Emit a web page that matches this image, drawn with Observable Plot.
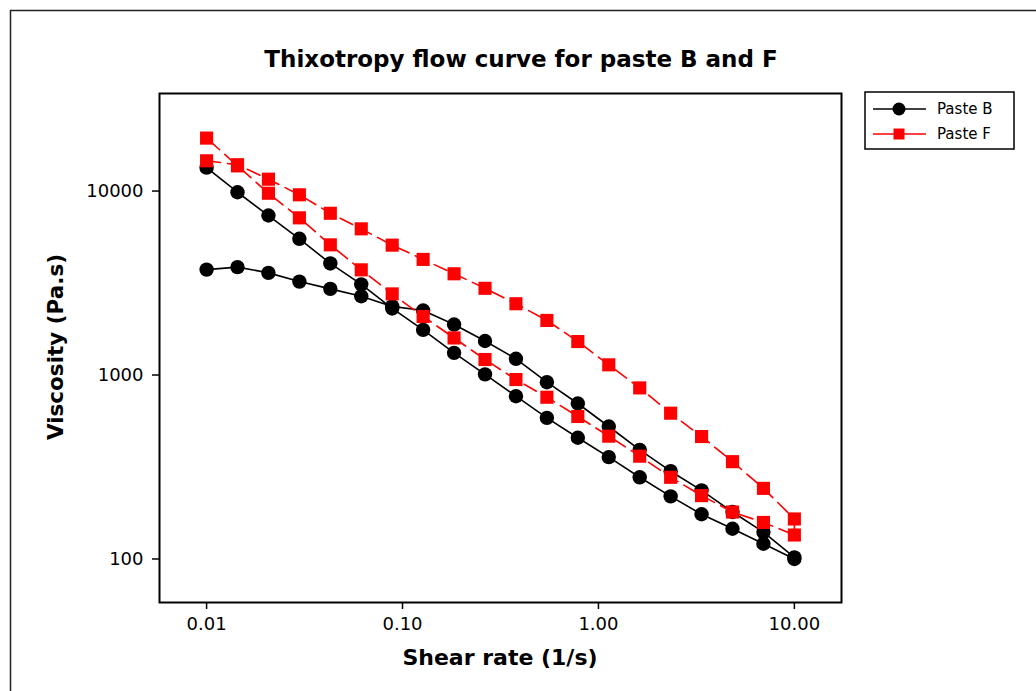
<!DOCTYPE html>
<html><head><meta charset="utf-8">
<script src="https://cdn.jsdelivr.net/npm/d3@7"></script>
<script src="https://cdn.jsdelivr.net/npm/@observablehq/plot@0.6"></script>
<style>
html,body{margin:0;padding:0;background:#fff;}
#chart{position:relative;width:1036px;height:691px;overflow:hidden;}
</style></head><body><div id="chart"></div>
<script>
// Shear rate steps (1/s)
const shearRate = [0.01, 0.01438, 0.02069, 0.02976, 0.04281, 0.06158, 0.08859, 0.1274, 0.1833, 0.2637,
                   0.3793, 0.5456, 0.7848, 1.129, 1.624, 2.336, 3.360, 4.833, 6.952, 10.0];
// Viscosity (Pa.s): ramp up branch and ramp down branch for each paste
const pasteB_up   = [3740, 3860, 3590, 3220, 2940, 2680, 2360, 2240, 1880, 1530, 1225, 914, 700, 525, 392, 300, 236, 180, 140, 102];
const pasteB_down = [13400, 9850, 7360, 5500, 4040, 3110, 2300, 1760, 1320, 1008, 767, 585, 456, 358, 278, 219, 175, 146, 121, 100];
const pasteF_up   = [14600, 13900, 11600, 9540, 7570, 6230, 5080, 4250, 3550, 2960, 2440, 1980, 1520, 1136, 851, 620, 463, 338, 242, 165];
const pasteF_down = [19400, 13700, 9730, 7150, 5100, 3730, 2760, 2080, 1590, 1214, 945, 757, 595, 465, 362, 278, 221, 180, 158, 135];
const seriesNames = ["Paste B", "Paste F"];
const xTicks = [0.01, 0.1, 1, 10];
const yTicks = [100, 1000, 10000];
const titleText = "Thixotropy flow curve for paste B and F";
const xLabel = "Shear rate (1/s)";
const yLabel = "Viscosity (Pa.s)";

function loop(name, up, down) {
  const rows = [];
  up.forEach((v, i) => rows.push({series: name, rate: shearRate[i], visc: v}));
  for (let i = down.length - 1; i >= 0; i--) rows.push({series: name, rate: shearRate[i], visc: down[i]});
  return rows;
}
const dataB = loop(seriesNames[0], pasteB_up, pasteB_down);
const dataF = loop(seriesNames[1], pasteF_up, pasteF_down);

const W = 1036, H = 691;
const FONT = "'DejaVu Sans', Verdana, sans-serif";
const RED = "#ff0000";

const plot = Plot.plot({
  width: W, height: H,
  marginLeft: 159, marginRight: 195, marginTop: 93, marginBottom: 89,
  style: {fontFamily: FONT, fontSize: "18px", background: "white", color: "black", overflow: "visible"},
  x: {type: "log", domain: [0.00575, 17.4]},
  y: {type: "log", domain: [58, 33900]},
  marks: [
    Plot.axisX({ticks: xTicks, tickFormat: d3.format(".2f"), tickSize: 7, tickPadding: 8, label: null, strokeWidth: 1.5}),
    Plot.axisY({ticks: yTicks, tickFormat: d3.format("d"), tickSize: 7, tickPadding: 9, label: null, strokeWidth: 1.5}),
    Plot.line(dataB, {x: "rate", y: "visc", stroke: "black", strokeWidth: 1.6}),
    Plot.dot(dataB, {x: "rate", y: "visc", r: 7.2, fill: "black", stroke: "none", symbol: "circle"}),
    Plot.line(dataF, {x: "rate", y: "visc", stroke: RED, strokeWidth: 1.6, strokeDasharray: "14,7"}),
    Plot.dot(dataF, {x: "rate", y: "visc", r: 7.4, fill: RED, stroke: "none", symbol: "square"}),
    Plot.frame({stroke: "black", strokeWidth: 2})
  ]
});

const svg = d3.select(plot);
// outer border
svg.insert("rect", ":first-child").attr("x", 10.5).attr("y", 10.5).attr("width", 1040).attr("height", 700)
  .attr("fill", "none").attr("stroke", "#222").attr("stroke-width", 1.5);
// title
svg.append("text").attr("x", 521).attr("y", 67).attr("text-anchor", "middle")
  .style("font-family", FONT).style("font-weight", "bold").style("font-size", "23px").text(titleText);
// axis titles
svg.append("text").attr("x", 500).attr("y", 665).attr("text-anchor", "middle")
  .style("font-family", FONT).style("font-weight", "bold").style("font-size", "22px").text(xLabel);
svg.append("text").attr("transform", "translate(63,347) rotate(-90)").attr("text-anchor", "middle")
  .style("font-family", FONT).style("font-weight", "bold").style("font-size", "21.5px").text(yLabel);
// legend
const lg = svg.append("g");
lg.append("rect").attr("x", 865).attr("y", 92).attr("width", 149).attr("height", 57)
  .attr("fill", "white").attr("stroke", "black").attr("stroke-width", 1.5);
const rows = [{name: seriesNames[0], color: "black", sym: "circle", y: 109}, {name: seriesNames[1], color: RED, sym: "square", y: 134}];
rows.forEach(r => {
  lg.append("line").attr("x1", 873).attr("x2", 926).attr("y1", r.y).attr("y2", r.y).attr("stroke", r.color).attr("stroke-width", 1.5);
  if (r.sym === "circle") lg.append("circle").attr("cx", 899).attr("cy", r.y).attr("r", 6.5).attr("fill", r.color);
  else lg.append("rect").attr("x", 893.5).attr("y", r.y - 5.5).attr("width", 11).attr("height", 11).attr("fill", r.color);
  lg.append("text").attr("x", 937).attr("y", r.y).attr("dy", "0.35em").attr("text-anchor", "start")
    .style("font-family", FONT).style("font-size", "15px").text(r.name);
});

document.getElementById("chart").appendChild(plot);
</script></body></html>
